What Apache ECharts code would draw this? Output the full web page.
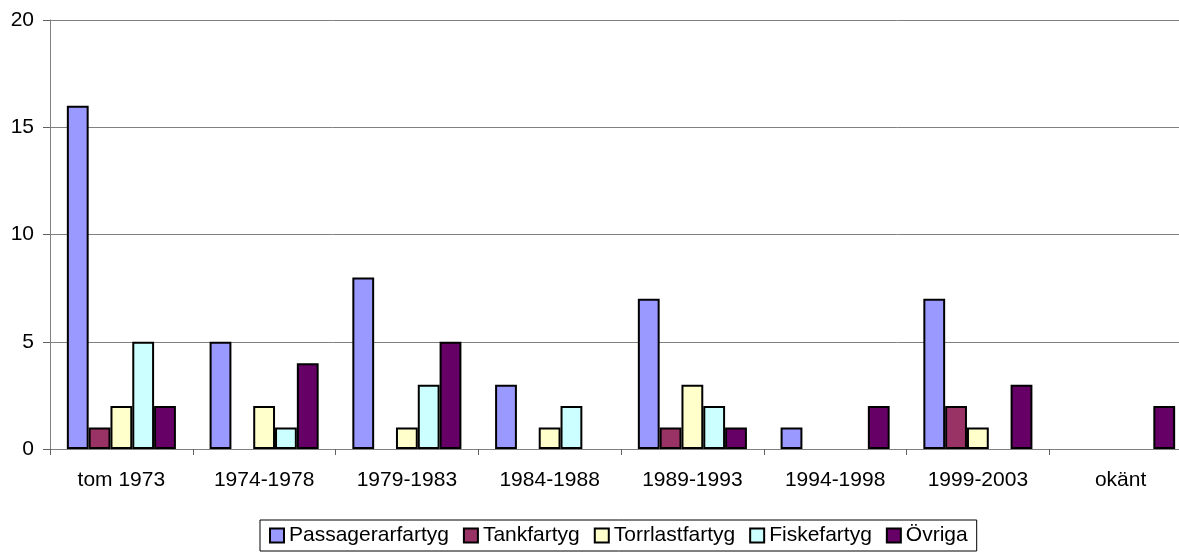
<!DOCTYPE html>
<html>
<head>
<meta charset="utf-8">
<script src="https://cdn.jsdelivr.net/npm/echarts@6/dist/echarts.min.js"></script>
<style>
  html, body { margin: 0; padding: 0; background: #fff; overflow: hidden; }
  #chart { width: 1179px; height: 552px; }
</style>
</head>
<body>
<div id="chart"></div>
<script>
// --- Datos ---
const categories = ["tom 1973", "1974-1978", "1979-1983", "1984-1988", "1989-1993", "1994-1998", "1999-2003", "okänt"];
const passagerar = [16, 5, 8, 3, 7, 1, 7, 0];
const tank = [1, 0, 0, 0, 1, 0, 2, 0];
const torrlast = [2, 2, 1, 1, 3, 0, 1, 0];
const fiske = [5, 1, 3, 2, 2, 0, 0, 0];
const ovriga = [2, 4, 5, 0, 1, 2, 3, 2];

const seriesDefs = [
    { name: "Passagerarfartyg", data: passagerar, color: "#9999FF" },
    { name: "Tankfartyg", data: tank, color: "#993366" },
    { name: "Torrlastfartyg", data: torrlast, color: "#FFFFCC" },
    { name: "Fiskefartyg", data: fiske, color: "#CCFFFF" },
    { name: "Övriga", data: ovriga, color: "#660066" }
];

var myChart = echarts.init(document.getElementById("chart"));

// el original está recortado a la derecha: el área del gráfico sigue más allá del borde
myChart.setOption({
    animation: false,
    textStyle: { fontFamily: "Liberation Sans, Arial, sans-serif" },
    grid: { left: 50, top: 20, width: 1142, height: 429, outerBoundsMode: "none", containLabel: false },
    legend: {
        top: 520,
        left: 260,
        itemWidth: 14,
        itemHeight: 14,
        itemGap: 14,
        padding: [5, 9, 5, 9],
        borderColor: "#000",
        borderWidth: 1,
        icon: "rect",
        itemStyle: { borderColor: "#000", borderWidth: 2 },
        textStyle: { fontSize: 21, color: "#000" }
    },
    xAxis: {
        type: "category",
        data: categories,
        axisLine: { lineStyle: { color: "#808080", width: 1 } },
        axisTick: { show: true, inside: false, length: 6, lineStyle: { color: "#606060" } },
        axisLabel: { fontSize: 21, color: "#000", margin: 21 }
    },
    yAxis: {
        type: "value",
        min: 0,
        max: 20,
        interval: 5,
        axisLine: { show: true, lineStyle: { color: "#808080", width: 1 } },
        axisTick: { show: true, length: 7, lineStyle: { color: "#606060" } },
        axisLabel: { fontSize: 21, color: "#000", margin: 16 },
        splitLine: { lineStyle: { color: "#808080", width: 1 } }
    },
    series: seriesDefs.map((s) => ({
        name: s.name,
        type: "bar",
        // los ceros no se dibujan en el original
        data: s.data.map((v) => (v === 0 ? null : v)),
        barGap: "0%",
        barCategoryGap: "23.6%",
        itemStyle: { color: s.color, borderColor: "#000", borderWidth: 2 }
    }))
});
</script>
</body>
</html>
